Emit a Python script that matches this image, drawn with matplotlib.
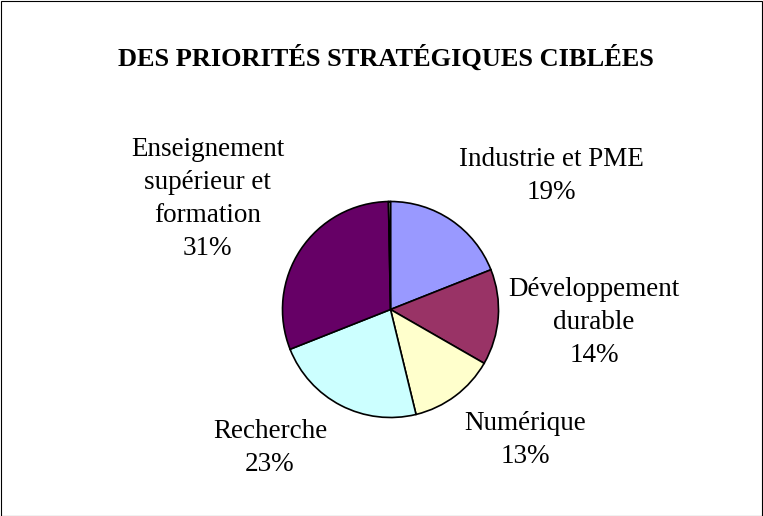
import matplotlib
matplotlib.use('Agg')
import matplotlib.pyplot as plt
from matplotlib.patches import Rectangle

plt.rcParams['font.family'] = ['Liberation Serif', 'DejaVu Serif']

# Data
categories = ['Industrie et PME', 'Développement\ndurable', 'Numérique',
              'Recherche', 'Enseignement\nsupérieur et\nformation', '']
values = [19.0, 14.3, 12.9, 22.8, 30.7, 0.3]
pct_labels = ['19%', '14%', '13%', '23%', '31%', '']
colors = ['#9999FF', '#993366', '#FFFFCC', '#CCFFFF', '#660066', '#FFFFFF']

# label centres, in pie radii from the centre
label_pos = [(1.486, 1.236), (1.884, -0.116), (1.245, -1.208),
             (-1.116, -1.282), (-1.694, 1.023)]

W, H = 763, 516
fig = plt.figure(figsize=(W / 100, H / 100), dpi=100)
ax = fig.add_axes([0, 0, 1, 1])

R = 108.0
cx, cy = 390.5, 516 - 309.5
ax.pie(values, colors=colors, startangle=90, counterclock=False, radius=1,
       wedgeprops=dict(edgecolor='black', linewidth=1.2))
ax.set_xlim(-cx / R, (W - cx) / R)
ax.set_ylim(-cy / R, (H - cy) / R)
ax.set_aspect('equal')
ax.axis('off')

for (lx, ly), cat, pct in zip(label_pos, categories, pct_labels):
    ax.text(lx, ly, cat + '\n' + pct, ha='center', va='center',
            fontsize=19.5, linespacing=1.42, color='black')

fig.text(386 / W, 1 - 58 / H, 'DES PRIORITÉS STRATÉGIQUES CIBLÉES',
         ha='center', va='center', fontsize=19, fontweight='bold')

fig.patches.append(Rectangle((0.5 / W, 0.5 / H), 1 - 1.5 / W, 1 - 1.5 / H,
                             transform=fig.transFigure, fill=False,
                             edgecolor='black', linewidth=0.8))

fig.savefig('out.png', dpi=100)
